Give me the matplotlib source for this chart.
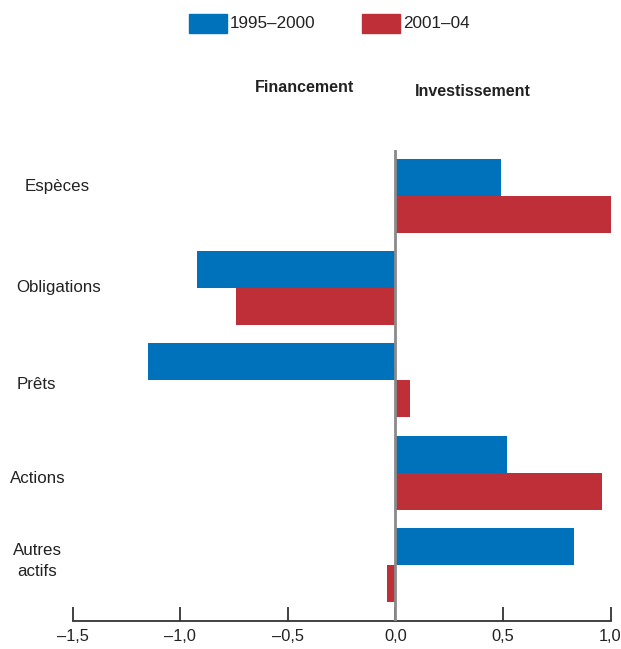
import matplotlib
matplotlib.use("Agg")
import matplotlib.pyplot as plt
import matplotlib.transforms as mtransforms
from matplotlib import font_manager
from matplotlib.patches import Rectangle

names = {f.name for f in font_manager.fontManager.ttflist}
family = "Liberation Sans Narrow" if "Liberation Sans Narrow" in names else "Liberation Sans"
plt.rcParams["font.family"] = [family, "DejaVu Sans"]

categories = ["Espèces", "Obligations", "Prêts", "Actions", "Autres\nactifs"]
series_names = ["1995–2000", "2001–04"]
values_1995_2000 = [0.49, -0.92, -1.15, 0.52, 0.83]
values_2001_04 = [1.00, -0.74, 0.07, 0.96, -0.04]
xticks = [-1.5, -1.0, -0.5, 0.0, 0.5, 1.0]
xtick_labels = ["–1,5", "–1,0", "–0,5", "0,0", "0,5", "1,0"]

blue = "#0072BC"
red = "#BE2F38"
text_col = "#222222"

W, H = 621, 649
fig = plt.figure(figsize=(W / 100, H / 100), dpi=100)
ax = fig.add_axes([72.5 / W, (H - 621) / H, (610.5 - 72.5) / W, (621 - 150) / H])

pos = list(range(len(categories)))
bh = 0.4
ax.barh([p - bh / 2 for p in pos], values_1995_2000, height=bh, color=blue, zorder=2)
ax.barh([p + bh / 2 for p in pos], values_2001_04, height=bh, color=red, zorder=2)

ax.set_xlim(-1.5, 1.0)
ax.set_ylim(4.608, -0.495)
ax.axvline(0, color="#8a8a8a", lw=2, zorder=3)

for s in ["top", "right", "left"]:
    ax.spines[s].set_visible(False)
ax.spines["bottom"].set_color("#333333")
ax.spines["bottom"].set_linewidth(1.3)
ax.set_yticks([])
ax.set_xticks(xticks)
ax.set_xticklabels(xtick_labels, fontsize=11.8, color=text_col)
ax.tick_params(axis="x", direction="in", length=10, width=1.3, color="#333333", pad=6)

# category labels on the left
label_x = [57, 59, 36, 38, 37]
label_dy = [-0.1, 0.0, 0.045, 0.06, -0.04]
trans = mtransforms.blended_transform_factory(fig.transFigure, ax.transData)
for cat, lx, p, dy in zip(categories, label_x, pos, label_dy):
    ax.text(lx / W, p + dy, cat, transform=trans,
            ha="center", va="center", fontsize=12.2, color=text_col, linespacing=1.45)

# section headings
fig.text(304 / W, 1 - 88 / H, "Financement", ha="center", va="center",
         fontsize=11.5, fontweight="bold", color=text_col)
fig.text(473 / W, 1 - 92 / H, "Investissement", ha="center", va="center",
         fontsize=11.5, fontweight="bold", color=text_col)

# legend
for (x0, name, col) in [(189, series_names[0], blue), (362, series_names[1], red)]:
    fig.patches.append(Rectangle((x0 / W, 1 - 33 / H), 38 / W, 19 / H,
                                 transform=fig.transFigure, color=col))
    fig.text((x0 + 41) / W, 1 - 24 / H, name, ha="left", va="center",
             fontsize=12.3, color=text_col)

fig.savefig("out.png", dpi=100)
